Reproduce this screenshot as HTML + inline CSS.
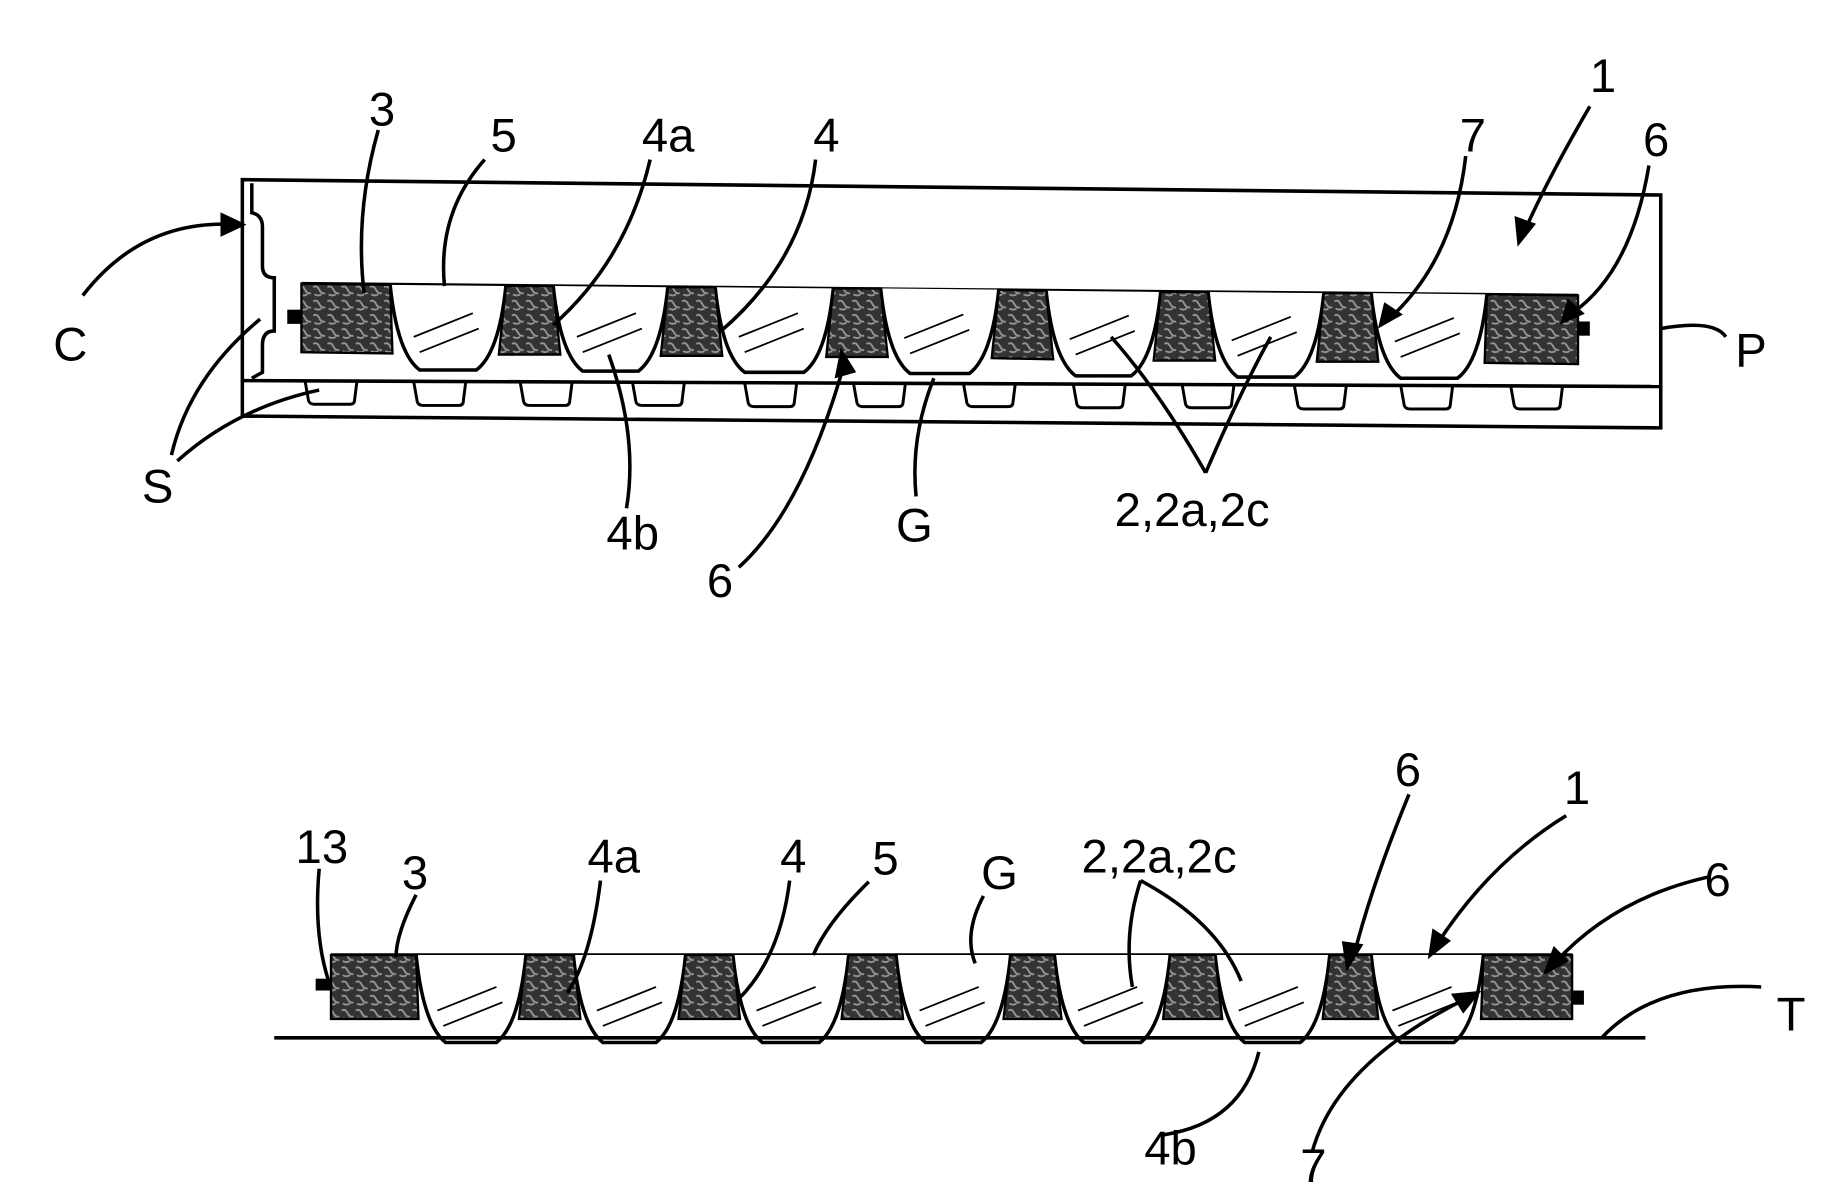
<!DOCTYPE html>
<html><head><meta charset="utf-8"><style>html,body{margin:0;padding:0;background:#fff}svg{display:block}</style></head>
<body>
<svg width="1844" height="1195" viewBox="0 0 1560 1011" xmlns="http://www.w3.org/2000/svg" font-family="Liberation Sans, sans-serif" font-size="40" fill="none" stroke="#000" stroke-width="3">
<defs>
<pattern id="dk" width="12" height="12" patternUnits="userSpaceOnUse"><rect width="12" height="12" fill="#333" stroke="none"/><path d="M1 3 Q4 1 6 5 T11 8 M2 9 Q5 11 8 9" stroke="#999" stroke-width="1.5"/></pattern>
</defs>
<!-- top box -->
<path d="M205 152 L1405 165 L1405 362 L205 352 Z"/>
<path d="M205 322 L1405 327"/>
<path d="M213 155 L213 180 Q222 182 222 192 L222 225 Q222 235 232 235 L232 280 Q222 280 222 292 L222 315 L213 320"/>
<!-- top trays -->
<g stroke-width="2.5">
<path d="M258 322 L261 339 Q262 342 266 342 L296 342 Q300 342 300 338 L302 322"/>
<path d="M350 323 L353 340 Q354 343 358 343 L388 343 Q392 343 392 339 L394 323"/>
<path d="M440 323 L443 340 Q444 343 448 343 L478 343 Q482 343 482 339 L484 323"/>
<path d="M535 323 L538 340 Q539 343 543 343 L573 343 Q577 343 577 339 L579 323"/>
<path d="M630 324 L633 341 Q634 344 638 344 L668 344 Q672 344 672 340 L674 324"/>
<path d="M722 324 L725 341 Q726 344 730 344 L760 344 Q764 344 764 340 L766 324"/>
<path d="M815 324 L818 341 Q819 344 823 344 L853 344 Q857 344 857 340 L859 324"/>
<path d="M908 325 L911 342 Q912 345 916 345 L946 345 Q950 345 950 341 L952 325"/>
<path d="M1000 325 L1003 342 Q1004 345 1008 345 L1038 345 Q1042 345 1042 341 L1044 325"/>
<path d="M1095 326 L1098 343 Q1099 346 1103 346 L1133 346 Q1137 346 1137 342 L1139 326"/>
<path d="M1185 326 L1188 343 Q1189 346 1193 346 L1223 346 Q1227 346 1227 342 L1229 326"/>
<path d="M1278 326 L1281 343 Q1282 346 1286 346 L1316 346 Q1320 346 1320 342 L1322 326"/>
</g>
<!-- top strip -->
<path d="M255 240 L1335 250"/>
<g fill="#fff">
<path d="M330 241 Q336 299 355 313 L403 313 Q422 299 428 242"/>
<path d="M468 242 Q474 300 493 314 L540 314 Q559 300 565 243"/>
<path d="M605 243 Q611 301 630 315 L680 315 Q699 301 705 244"/>
<path d="M745 244 Q751 302 770 316 L820 316 Q839 302 845 245"/>
<path d="M885 246 Q891 304 910 318 L957 318 Q976 304 982 247"/>
<path d="M1022 247 Q1028 305 1047 319 L1095 319 Q1114 305 1120 248"/>
<path d="M1160 248 Q1166 306 1185 320 L1233 320 Q1252 306 1258 249"/>
</g>
<g fill="url(#dk)" stroke-width="2">
<path d="M255 240 L330 241 L332 299 L255 298 Z"/>
<path d="M428 242 L468 242 L474 300 L422 300 Z"/>
<path d="M565 243 L605 243 L611 301 L559 301 Z"/>
<path d="M705 244 L745 244 L751 302 L699 302 Z"/>
<path d="M845 245 L885 246 L891 304 L839 303 Z"/>
<path d="M982 247 L1022 247 L1028 305 L976 305 Z"/>
<path d="M1120 248 L1160 248 L1166 306 L1114 306 Z"/>
<path d="M1258 249 L1335 250 L1335 308 L1256 307 Z"/>
</g>
<rect x="243" y="262" width="12" height="12" fill="#000" stroke="none"/><rect x="1335" y="272" width="10" height="12" fill="#000" stroke="none"/>
<g stroke-width="1.5">
<path d="M350 285 L400 265 M355 298 L405 278"/><path d="M488 285 L538 265 M493 298 L543 278"/>
<path d="M625 285 L675 265 M630 298 L680 278"/><path d="M765 286 L815 266 M770 299 L820 279"/>
<path d="M905 287 L955 267 M910 300 L960 280"/><path d="M1042 288 L1092 268 M1047 301 L1097 281"/>
<path d="M1180 289 L1230 269 M1185 302 L1235 282"/>
</g>
<!-- bottom strip -->
<path d="M280 808 L1330 808"/>
<g fill="#fff">
<path d="M352 808 Q358 867 377 882 L420 882 Q439 867 445 808"/>
<path d="M485 808 Q491 867 510 882 L555 882 Q574 867 580 808"/>
<path d="M620 808 Q626 867 645 882 L693 882 Q712 867 718 808"/>
<path d="M758 808 Q764 867 783 882 L830 882 Q849 867 855 808"/>
<path d="M892 808 Q898 867 917 882 L965 882 Q984 867 990 808"/>
<path d="M1028 808 Q1034 867 1053 882 L1100 882 Q1119 867 1125 808"/>
<path d="M1160 808 Q1166 867 1185 882 L1230 882 Q1249 867 1255 808"/>
</g>
<g fill="url(#dk)" stroke-width="2">
<path d="M280 808 L352 808 L354 862 L280 862 Z"/>
<path d="M445 808 L485 808 L491 862 L439 862 Z"/>
<path d="M580 808 L620 808 L626 862 L574 862 Z"/>
<path d="M718 808 L758 808 L764 862 L712 862 Z"/>
<path d="M855 808 L892 808 L898 862 L849 862 Z"/>
<path d="M990 808 L1028 808 L1034 862 L984 862 Z"/>
<path d="M1125 808 L1160 808 L1166 862 L1119 862 Z"/>
<path d="M1255 808 L1330 808 L1330 862 L1253 862 Z"/>
</g>
<rect x="267" y="828" width="13" height="10" fill="#000" stroke="none"/><rect x="1330" y="838" width="10" height="12" fill="#000" stroke="none"/>
<g stroke-width="1.5">
<path d="M370 855 L420 835 M375 868 L425 848"/><path d="M505 855 L555 835 M510 868 L560 848"/>
<path d="M640 855 L690 835 M645 868 L695 848"/><path d="M778 855 L828 835 M783 868 L833 848"/>
<path d="M912 855 L962 835 M917 868 L967 848"/><path d="M1048 855 L1098 835 M1053 868 L1103 848"/>
<path d="M1178 855 L1228 835 M1183 868 L1233 848"/>
</g>
<g fill="#000" stroke="none">
<text x="312" y="106">3</text><text x="415" y="128">5</text><text x="543" y="128">4a</text><text x="688" y="128">4</text>
<text x="1235" y="128">7</text><text x="1390" y="132">6</text><text x="1345" y="78">1</text>
<text x="45" y="305">C</text><text x="1468" y="310">P</text><text x="120" y="425">S</text>
<text x="513" y="465">4b</text><text x="598" y="505">6</text><text x="758" y="458">G</text><text x="943" y="445">2,2a,2c</text>
<text x="250" y="730">13</text><text x="340" y="752">3</text><text x="497" y="738">4a</text><text x="660" y="738">4</text><text x="738" y="740">5</text>
<text x="830" y="752">G</text><text x="915" y="738">2,2a,2c</text><text x="1180" y="665">6</text><text x="1323" y="680">1</text><text x="1442" y="758">6</text>
<text x="1503" y="872">T</text><text x="968" y="985">4b</text><text x="1100" y="1000">7</text>
</g>
<g stroke-width="3">
<path d="M70 250 Q120 185 200 190"/><path d="M188 182 L205 190 L188 198 Z" fill="#000"/>
<path d="M145 385 Q160 320 220 270"/><path d="M150 390 Q200 345 270 330"/>
<path d="M320 110 Q300 180 308 248"/><path d="M410 135 Q370 180 376 242"/>
<path d="M550 135 Q530 220 468 275"/><path d="M690 135 Q680 220 610 280"/>
<path d="M1240 132 Q1230 220 1175 270"/><path d="M1168 275 L1172 258 L1184 266 Z" fill="#000"/>
<path d="M1395 140 Q1380 230 1330 265"/><path d="M1322 272 L1327 255 L1338 265 Z" fill="#000"/>
<path d="M1345 90 Q1310 150 1290 195"/><path d="M1285 205 L1283 185 L1297 190 Z" fill="#000"/>
<path d="M1405 278 Q1450 270 1460 285"/>
<path d="M530 430 Q540 370 515 300"/><path d="M625 480 Q680 430 715 305"/><path d="M712 298 L708 318 L722 314 Z" fill="#000"/>
<path d="M775 420 Q770 370 790 320"/>
<path d="M1020 400 Q980 330 940 285"/><path d="M1020 400 Q1050 330 1075 285"/>
<path d="M270 735 Q265 790 278 830"/><path d="M352 757 Q335 790 335 810"/>
<path d="M508 745 Q500 810 480 840"/><path d="M668 745 Q660 810 625 845"/><path d="M735 746 Q700 780 688 808"/>
<path d="M832 758 Q815 790 825 815"/>
<path d="M965 745 Q950 790 958 835"/><path d="M965 745 Q1030 780 1050 830"/>
<path d="M1192 672 Q1160 750 1145 810"/><path d="M1140 818 L1137 798 L1151 800 Z" fill="#000"/>
<path d="M1325 690 Q1260 730 1215 800"/><path d="M1210 808 L1213 788 L1225 796 Z" fill="#000"/>
<path d="M1445 742 Q1365 760 1315 815"/><path d="M1308 822 L1315 803 L1325 813 Z" fill="#000"/>
<path d="M1355 878 Q1400 830 1490 835"/><path d="M232 878 L1392 878"/>
<path d="M985 960 Q1050 950 1065 890"/><path d="M1110 975 Q1130 900 1240 845"/><path d="M1250 840 L1230 842 L1238 855 Z" fill="#000"/>
</g>
</svg>
</body></html>
